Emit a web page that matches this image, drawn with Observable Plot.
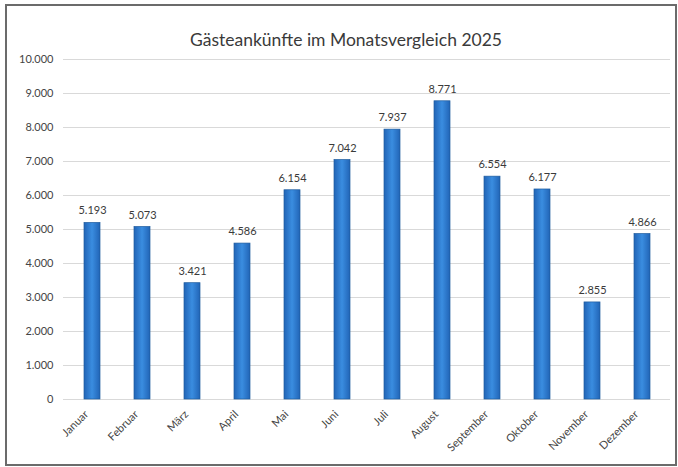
<!DOCTYPE html>
<html><head><meta charset="utf-8">
<script src="https://cdn.jsdelivr.net/npm/d3@7"></script>
<script src="https://cdn.jsdelivr.net/npm/@observablehq/plot@0.6"></script>
<style>
body{margin:0;background:#fff;}
#wrap{position:relative;width:678px;height:467px;overflow:hidden;}
#border{position:absolute;left:5px;top:4px;width:672px;height:462px;border:2px solid #6b6b6b;box-sizing:border-box;}
#chart{position:absolute;left:0;top:0;}
</style>
</head><body>
<div id="wrap"><div id="border"></div><div id="chart"></div></div>
<script>
const title = "Gästeankünfte im Monatsvergleich 2025";
const months = ["Januar","Februar","März","April","Mai","Juni","Juli","August","September","Oktober","November","Dezember"];
const values = [5193, 5073, 3421, 4586, 6154, 7042, 7937, 8771, 6554, 6177, 2855, 4866];
const yTicks = [0,1000,2000,3000,4000,5000,6000,7000,8000,9000,10000];

const de = d3.formatLocale({decimal: ",", thousands: ".", grouping: [3], currency: ["", " €"]});
const fmt = de.format(",d");
const data = months.map((m, i) => ({month: m, value: values[i]}));

const plot = Plot.plot({
  width: 678, height: 467,
  marginLeft: 63, marginRight: 8, marginTop: 59, marginBottom: 68,
  style: {fontFamily: "Lato, 'Open Sans', sans-serif", background: "transparent"},
  x: {type: "band", domain: months, paddingInner: 0.68, paddingOuter: 0.34},
  y: {domain: [0, 10000]},
  marks: [
    Plot.gridY({ticks: yTicks, stroke: "#d9d9d9", strokeOpacity: 1}),
    Plot.barY(data, {x: "month", y: "value", fill: "url(#barGrad)", stroke: "#1f5c9e", strokeWidth: 0.7}),
    Plot.text(data, {x: "month", y: "value", text: d => fmt(d.value), dy: -12, fontSize: 11, fill: "#3a3a3a"}),
    Plot.axisY({ticks: yTicks, tickFormat: fmt, tickSize: 0, tickPadding: 10, fontSize: 11, color: "#444444", label: null}),
    Plot.axisX({tickRotate: -45, tickSize: 0, tickPadding: 8, dx: -6, dy: 5, fontSize: 11, color: "#444444", label: null}),
    Plot.text([title], {frameAnchor: "top", dx: -21, dy: -26, fontSize: 17.5, fill: "#3a3a3a"})
  ]
});
document.getElementById("chart").appendChild(plot);
const svg = d3.select(plot);
const defs = svg.insert("defs", ":first-child");
const g = defs.append("linearGradient").attr("id", "barGrad").attr("x1", 0).attr("x2", 1).attr("y1", 0).attr("y2", 0);
g.append("stop").attr("offset", "0%").attr("stop-color", "#2164b6");
g.append("stop").attr("offset", "50%").attr("stop-color", "#3a8de0");
g.append("stop").attr("offset", "100%").attr("stop-color", "#2164b6");
</script>
</body></html>
